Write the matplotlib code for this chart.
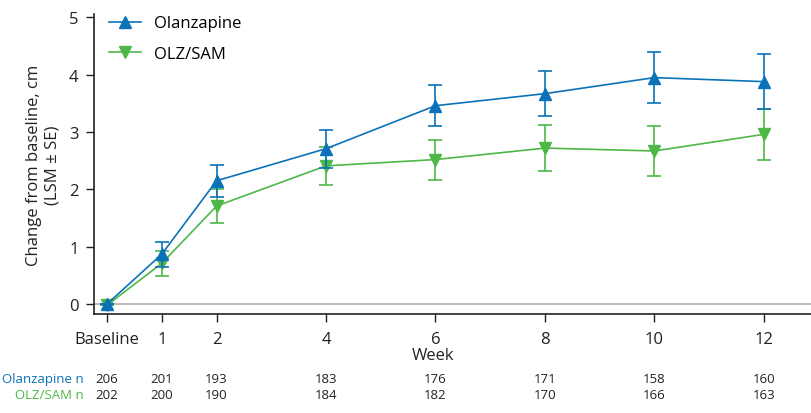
import numpy as np
import matplotlib
matplotlib.use('Agg')
import matplotlib.pyplot as plt
import matplotlib.transforms as mtransforms
from matplotlib.lines import Line2D

plt.rcParams['font.family'] = ['Open Sans', 'DejaVu Sans']

weeks = [0, 1, 2, 4, 6, 8, 10, 12]
tick_labels = ['Baseline', '1', '2', '4', '6', '8', '10', '12']

olz = [0, 0.87, 2.15, 2.71, 3.46, 3.67, 3.95, 3.88]
olz_se = [0, 0.22, 0.28, 0.33, 0.36, 0.39, 0.44, 0.48]
sam = [-0.02, 0.71, 1.71, 2.41, 2.52, 2.72, 2.67, 2.96]
sam_se = [0, 0.22, 0.29, 0.33, 0.35, 0.40, 0.44, 0.45]

olz_n = [206, 201, 193, 183, 176, 171, 158, 160]
sam_n = [202, 200, 190, 184, 182, 170, 166, 163]

blue = '#0b72b9'
green = '#4db848'

fig = plt.figure(figsize=(8.12, 4.14), dpi=100)
ax = fig.add_axes([94 / 812, 99 / 414, 718 / 812, 300 / 414])

ax.axhline(0, color='#b0b0b0', lw=1.2, zorder=1)

ax.errorbar(weeks, sam, yerr=sam_se, color=green, marker='v', markersize=8,
            lw=1.2, capsize=5, capthick=1.2, elinewidth=1.2, zorder=3)
ax.errorbar(weeks, olz, yerr=olz_se, color=blue, marker='^', markersize=8,
            lw=1.2, capsize=5, capthick=1.2, elinewidth=1.2, zorder=4)

ax.set_xlim(-0.24, 12.88)
ax.set_ylim(-0.175, 5.06)
ax.set_xticks(weeks)
ax.set_xticklabels(tick_labels)
ax.set_yticks([0, 1, 2, 3, 4, 5])
ax.tick_params(axis='both', labelsize=12, length=6, width=1, colors='#222222')
ax.tick_params(axis='x', pad=6)
ax.tick_params(axis='y', pad=5)
for s in ['top', 'right']:
    ax.spines[s].set_visible(False)
for s in ['left', 'bottom']:
    ax.spines[s].set_linewidth(1.2)
    ax.spines[s].set_color('#222222')

ax.set_ylabel('Change from baseline, cm\n(LSM ± SE)', fontsize=12, color='#222222',
              linespacing=1.15)
ax.yaxis.set_label_coords(-0.047, 0.5)

trans = mtransforms.blended_transform_factory(ax.transData, fig.transFigure)
ax.text(5.95, (414 - 356) / 414, 'Week', transform=trans, ha='center', va='center',
        fontsize=12, color='#222222')

handles = [Line2D([], [], color=blue, marker='^', markersize=8, lw=1.2),
           Line2D([], [], color=green, marker='v', markersize=8, lw=1.2)]
ax.legend(handles, ['Olanzapine', 'OLZ/SAM'], loc='upper left', frameon=False,
          fontsize=12, bbox_to_anchor=(0.0, 1.045), handlelength=1.9,
          handletextpad=0.8, labelspacing=0.85)

for x, a, b in zip(weeks, olz_n, sam_n):
    ax.text(x, (414 - 380) / 414, str(a), transform=trans, ha='center', va='center',
            fontsize=9.5, color='#222222')
    ax.text(x, (414 - 396) / 414, str(b), transform=trans, ha='center', va='center',
            fontsize=9.5, color='#222222')
fig.text(84 / 812, (414 - 380) / 414, 'Olanzapine n', ha='right', va='center',
         fontsize=9.5, color=blue)
fig.text(84 / 812, (414 - 396) / 414, 'OLZ/SAM n', ha='right', va='center',
         fontsize=9.5, color=green)

fig.savefig('out.png', dpi=100)
